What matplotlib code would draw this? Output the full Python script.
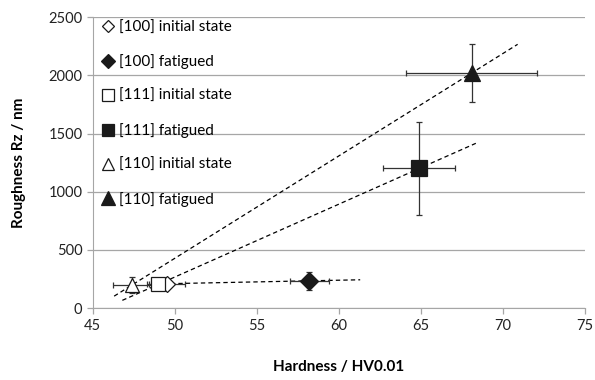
import numpy as np
import matplotlib
matplotlib.use("Agg")
import matplotlib.pyplot as plt

plt.rcParams['font.family'] = ['Lato', 'DejaVu Sans']

# series: label, marker, filled, x, y, xerr, yerr
labels = ["[100] initial state", "[100] fatigued",
          "[111] initial state", "[111] fatigued",
          "[110] initial state", "[110] fatigued"]
markers = ["D", "D", "s", "s", "^", "^"]
filled = [False, True, False, True, False, True]
hardness = [49.5, 58.2, 49.0, 64.9, 47.4, 68.1]
rz = [210, 235, 205, 1200, 200, 2020]
hardness_err = [1.1, 1.2, 0.7, 2.2, 1.2, 4.0]
rz_err = [40, 80, 40, 400, 70, 250]
msizes = [8, 9, 10, 11, 10, 12]

# trend lines per orientation (pairs of series indices) and x-extent
trend_pairs = [(0, 1), (2, 3), (4, 5)]
trend_ranges = [(49.3, 61.3), (46.8, 68.35), (46.3, 70.9)]

fig = plt.figure(figsize=(5.95, 3.8), dpi=100)
ax = fig.add_axes([0.156, 0.189, 0.827, 0.766])

for (i, j), (x0, x1) in zip(trend_pairs, trend_ranges):
    k, b = np.polyfit([hardness[i], hardness[j]], [rz[i], rz[j]], 1)
    xs = np.array([x0, x1])
    ax.plot(xs, k * xs + b, color='black', lw=0.9, ls=(0, (3.5, 2.5)), zorder=2)

for i in range(len(labels)):
    ax.errorbar(hardness[i], rz[i], xerr=hardness_err[i], yerr=rz_err[i],
                fmt='none', ecolor='#333333', elinewidth=0.9, capsize=2.5,
                capthick=0.9, zorder=3)
    ax.plot(hardness[i], rz[i], ls='none', marker=markers[i], ms=msizes[i],
            mfc='#1a1a1a' if filled[i] else 'white', mec='#1a1a1a', mew=0.9,
            label=labels[i], zorder=4)

ax.set_xlim(45, 75)
ax.set_ylim(0, 2500)
ax.set_xticks(range(45, 80, 5))
ax.set_yticks(range(0, 2501, 500))
ax.yaxis.grid(True, color='#a6a6a6', lw=0.9)
ax.set_axisbelow(True)
for s in ['top', 'right']:
    ax.spines[s].set_visible(False)
for s in ['left', 'bottom']:
    ax.spines[s].set_color('#a6a6a6')
ax.tick_params(axis='both', colors='#a6a6a6', labelcolor='#222222',
               labelsize=10.5, length=4, width=0.9)

ax.set_xlabel("Hardness / HV0.01", fontsize=11, fontweight='bold', labelpad=20)
ax.set_ylabel("Roughness Rz / nm", fontsize=11, fontweight='bold', labelpad=16)

leg = ax.legend(loc='upper left', frameon=False, fontsize=11, labelspacing=1.3,
                handlelength=0.8, handletextpad=0.3, markerscale=0.8,
                borderaxespad=0.2, bbox_to_anchor=(0.0, 1.02))

fig.savefig("out.png", dpi=100)
